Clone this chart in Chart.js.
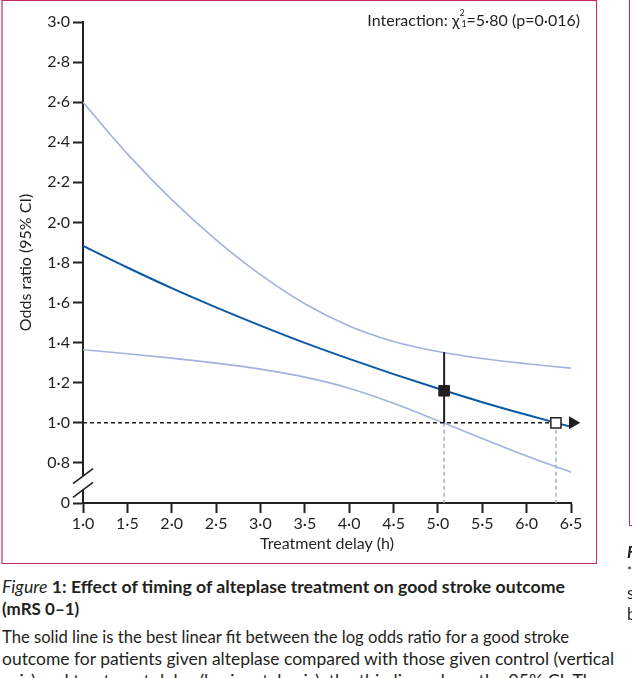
<!DOCTYPE html>
<html>
<head>
<meta charset="utf-8">
<script src="https://cdn.jsdelivr.net/npm/chart.js@4"></script>
<style>
  html, body { margin: 0; padding: 0; background: #fff; }
  body { width: 632px; height: 678px; overflow: hidden; position: relative;
         font-family: Lato, "Open Sans", sans-serif; color: #231f20; }
  #panel { position: absolute; left: 1px; top: 0; width: 596px; height: 564px; box-sizing: border-box;
           border: 1px solid #c52a5b; border-left: 2px solid #d9819d; }
  #panel2 { position: absolute; left: 629px; top: -2px; width: 20px; height: 528px; box-sizing: border-box;
            border: 1px solid #c52a5b; }
  #chartBox { position: absolute; left: 0; top: 0; width: 632px; height: 563px; }
  #note { position: absolute; right: 52px; top: 10px; font-size: 16px; white-space: nowrap; }
  .ss { display: inline-block; position: relative; width: 7px; height: 1em; }
  .ss .sup { position: absolute; left: 0; top: -3px; font-size: 9px; }
  .ss .sub { position: absolute; left: 2px; top: 8px; font-size: 9px; }
  #caption { position: absolute; left: 2px; top: 576px; font-size: 17px; line-height: 22px; font-weight: bold; }
  #body { position: absolute; left: 2px; top: 626px; font-size: 17px; line-height: 22px; }
  .cl { white-space: nowrap; }
  .cl span.fit { display: inline-block; transform-origin: left center; }
  .frag { position: absolute; left: 627px; font-size: 17px; white-space: nowrap; }
</style>
</head>
<body>
<div id="panel"></div>
<div id="panel2"></div>
<div id="chartBox"><canvas id="chart" width="632" height="563"></canvas></div>
<div id="note">Interaction: χ<span class="ss"><span class="sup">2</span><span class="sub">1</span></span>=5·80 (p=0·016)</div>

<div id="caption">
  <div class="cl"><span class="fit" data-w="563"><i style="font-weight:normal">Figure</i> 1: Effect of timing of alteplase treatment on good stroke outcome</span></div>
  <div class="cl">(mRS 0–1)</div>
</div>
<div id="body">
  <div class="cl"><span class="fit" data-w="567">The solid line is the best linear fit between the log odds ratio for a good stroke</span></div>
  <div class="cl"><span class="fit" data-w="612">outcome for patients given alteplase compared with those given control (vertical</span></div>
  <div class="cl"><span class="fit" data-w="600">axis) and treatment delay (horizontal axis); the thin lines show the 95% CI. The</span></div>
</div>
<div class="frag" style="top:541px"><b><i>Figure 2</i></b></div>
<div class="frag" style="top:563px;font-size:12px">*</div>
<div class="frag" style="top:582px">s</div>
<div class="frag" style="top:603px">b</div>

<script>
// valeurs (OR vs délai de traitement)
const delayHours = [1.0, 1.5, 2.0, 2.5, 3.0, 3.5, 4.0, 4.5, 5.0, 5.5, 6.0, 6.5];
const oddsRatio  = [1.883, 1.775, 1.672, 1.576, 1.485, 1.399, 1.319, 1.243, 1.171, 1.103, 1.040, 0.980];
const ciUpper    = [2.599, 2.342, 2.114, 1.913, 1.739, 1.594, 1.483, 1.406, 1.356, 1.321, 1.295, 1.273];
const ciLower    = [1.365, 1.345, 1.323, 1.298, 1.268, 1.228, 1.173, 1.098, 1.011, 0.922, 0.835, 0.754];

const xTickValues = [1.0, 1.5, 2.0, 2.5, 3.0, 3.5, 4.0, 4.5, 5.0, 5.5, 6.0, 6.5];
const xTickLabels = ["1·0", "1·5", "2·0", "2·5", "3·0", "3·5", "4·0", "4·5", "5·0", "5·5", "6·0", "6·5"];
// l'axe est coupé : la graduation du bas (0·6) est étiquetée "0"
const yTickValues = [0.6, 0.8, 1.0, 1.2, 1.4, 1.6, 1.8, 2.0, 2.2, 2.4, 2.6, 2.8, 3.0];
const yTickLabels = ["0", "0·8", "1·0", "1·2", "1·4", "1·6", "1·8", "2·0", "2·2", "2·4", "2·6", "2·8", "3·0"];

// repères
const crossDelay = 5.07;   // la borne basse de l'IC passe par 1
const crossOR = 1.16;
const crossUpper = 1.353;
const nullDelay = 6.33;    // l'OR ajusté vaut 1
const arrowDelay = 6.52;
const nullOR = 1.0;
const axisFloor = 0.6;
const breakValues = [0.734, 0.666];

const ink = "#231f20";
const blue = "#0b58a4";
const lightBlue = "#a3b1dc";
const grey = "#a9b0b7";

Chart.defaults.font.family = "Lato, 'Open Sans', sans-serif";
Chart.defaults.color = ink;

const toPoints = (xs, ys) => xs.map((x, i) => ({ x: x, y: ys[i] }));

const axisBreak = {
    id: "axisBreak",
    afterDraw(chart) {
        const { ctx, scales: { x, y } } = chart;
        const px = x.getPixelForValue(x.min);
        const yHi = y.getPixelForValue(breakValues[0]);
        const yLo = y.getPixelForValue(breakValues[1]);
        ctx.save();
        ctx.fillStyle = "#fff";
        ctx.fillRect(px - 3, yHi, 6, yLo - yHi);
        ctx.strokeStyle = ink;
        ctx.lineWidth = 1.6;
        [yHi, yLo].forEach(py => {
            ctx.beginPath();
            ctx.moveTo(px - 10, py + 7.5);
            ctx.lineTo(px + 10, py - 7.5);
            ctx.stroke();
        });
        ctx.restore();
    }
};

const lineDs = (data, color, width, dash) => ({
    data: data,
    showLine: true,
    borderColor: color,
    borderWidth: width,
    borderDash: dash || [],
    pointRadius: 0,
    fill: false
});

new Chart(document.getElementById("chart").getContext("2d"), {
    type: "scatter",
    data: {
        datasets: [
            {   // flèche
                data: [{ x: arrowDelay, y: nullOR }],
                pointStyle: "triangle",
                rotation: 90,
                pointRadius: 7.5,
                backgroundColor: ink,
                borderWidth: 0,
                clip: false
            },
            {   // carré vide
                data: [{ x: nullDelay, y: nullOR }],
                pointStyle: "rect",
                pointRadius: 7.2,
                backgroundColor: "#fff",
                borderColor: ink,
                borderWidth: 1.5
            },
            {   // carré plein
                data: [{ x: crossDelay, y: crossOR }],
                pointStyle: "rect",
                pointRadius: 7.5,
                backgroundColor: ink,
                borderColor: ink,
                borderWidth: 1
            },
            lineDs([{ x: crossDelay, y: nullOR }, { x: crossDelay, y: crossUpper }], ink, 2),
            Object.assign(lineDs(toPoints(delayHours, oddsRatio), blue, 2), { cubicInterpolationMode: "monotone" }),
            lineDs([{ x: delayHours[0], y: nullOR }, { x: nullDelay, y: nullOR }], ink, 1.5, [4, 3]),
            Object.assign(lineDs(toPoints(delayHours, ciUpper), lightBlue, 1.6), { cubicInterpolationMode: "monotone" }),
            Object.assign(lineDs(toPoints(delayHours, ciLower), lightBlue, 1.6), { cubicInterpolationMode: "monotone" }),
            lineDs([{ x: crossDelay, y: nullOR }, { x: crossDelay, y: axisFloor }], grey, 1.5, [4, 3]),
            lineDs([{ x: nullDelay, y: nullOR }, { x: nullDelay, y: axisFloor }], grey, 1.5, [4, 3])
        ]
    },
    options: {
        responsive: false,
        animation: false,
        events: [],
        layout: { padding: { top: 22, right: 61, left: 0, bottom: 0 } },
        plugins: { legend: { display: false }, tooltip: { enabled: false } },
        scales: {
            x: {
                type: "linear",
                min: 1,
                max: 6.5,
                afterBuildTicks: s => { s.ticks = xTickValues.map(v => ({ value: v })); },
                afterFit: s => { s.height = 60; },
                border: { display: true, color: ink, width: 2 },
                grid: { drawOnChartArea: false, drawTicks: true, tickLength: 10, tickColor: ink, tickWidth: 2, color: ink },
                ticks: { callback: (v, i) => xTickLabels[i], font: { size: 16 }, padding: 1, maxRotation: 0, color: ink },
                title: { display: true, text: "Treatment delay (h)", font: { size: 16 }, color: ink, padding: { top: 0, bottom: 10 } }
            },
            y: {
                type: "linear",
                min: 0.6,
                max: 3.0,
                afterBuildTicks: s => { s.ticks = yTickValues.map(v => ({ value: v })); },
                afterFit: s => { s.width = 83; },
                border: { display: true, color: ink, width: 2 },
                grid: { drawOnChartArea: false, drawTicks: true, tickLength: 10, tickColor: ink, tickWidth: 2, color: ink },
                ticks: { callback: (v, i) => yTickLabels[i], font: { size: 16 }, padding: 3, color: ink },
                title: { display: true, text: "Odds ratio (95% CI)", font: { size: 16 }, color: ink, padding: { top: 16, bottom: 0 } }
            }
        }
    },
    plugins: [axisBreak]
});

// ajuste la largeur des lignes de légende (police plus étroite dans l'original)
document.querySelectorAll(".fit").forEach(el => {
    const target = parseFloat(el.dataset.w);
    const w = el.getBoundingClientRect().width;
    if (w > 0) el.style.transform = "scaleX(" + (target / w) + ")";
});
</script>
</body>
</html>
